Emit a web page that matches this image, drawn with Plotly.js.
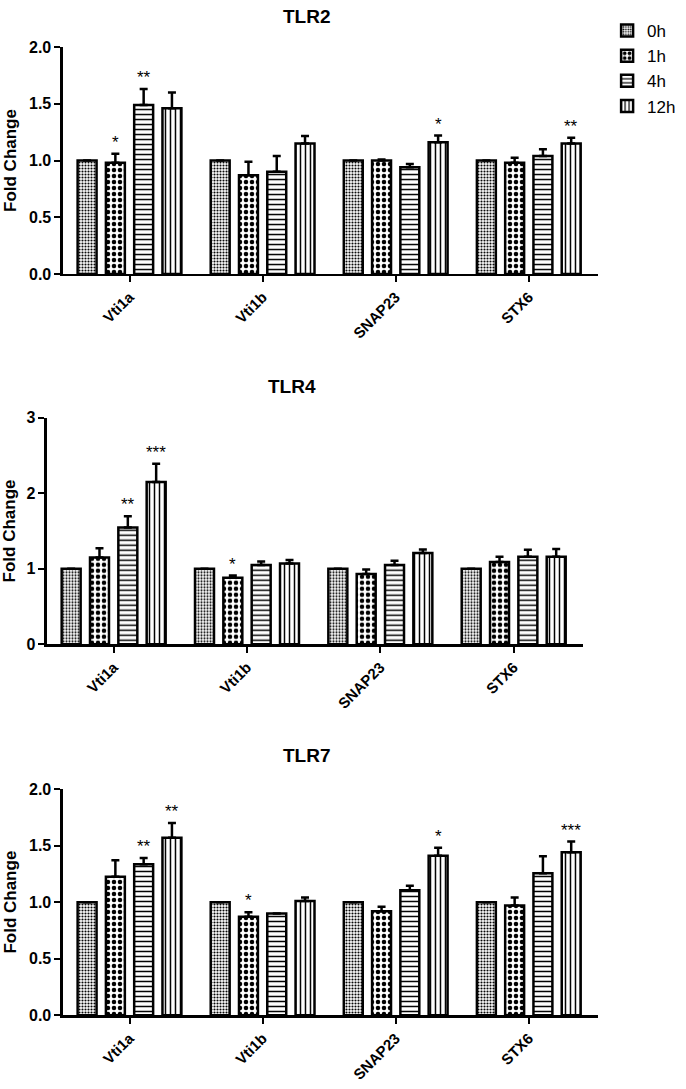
<!DOCTYPE html>
<html>
<head>
<meta charset="utf-8">
<script src="https://cdn.plot.ly/plotly-3.0.1.min.js"></script>
<style>
  html, body { margin: 0; padding: 0; background: #fff; }
  #chart { width: 686px; height: 1089px; }
</style>
</head>
<body>
<div id="chart"></div>
<script>
// genes on the x axis, time points as series
const categories = ['Vti1a', 'Vti1b', 'SNAP23', 'STX6'];
const timepoints = ['0h', '1h', '4h', '12h'];

// TLR2
const tlr2Mean0h  = [1.00, 1.00, 1.00, 1.00];
const tlr2Mean1h  = [0.98, 0.87, 1.00, 0.98];
const tlr2Mean4h  = [1.49, 0.90, 0.94, 1.04];
const tlr2Mean12h = [1.46, 1.15, 1.16, 1.15];
const tlr2Sem0h   = [0, 0, 0, 0];
const tlr2Sem1h   = [0.08, 0.12, 0.01, 0.045];
const tlr2Sem4h   = [0.14, 0.14, 0.03, 0.06];
const tlr2Sem12h  = [0.14, 0.065, 0.06, 0.05];
const tlr2Stars1h  = ['*', '', '', ''];
const tlr2Stars4h  = ['**', '', '', ''];
const tlr2Stars12h = ['', '', '*', '**'];

// TLR4
const tlr4Mean0h  = [1.00, 1.00, 1.00, 1.00];
const tlr4Mean1h  = [1.15, 0.88, 0.93, 1.09];
const tlr4Mean4h  = [1.545, 1.05, 1.05, 1.16];
const tlr4Mean12h = [2.15, 1.07, 1.21, 1.16];
const tlr4Sem0h   = [0, 0, 0, 0];
const tlr4Sem1h   = [0.12, 0.03, 0.06, 0.07];
const tlr4Sem4h   = [0.15, 0.045, 0.055, 0.09];
const tlr4Sem12h  = [0.24, 0.045, 0.045, 0.10];
const tlr4Stars1h  = ['', '*', '', ''];
const tlr4Stars4h  = ['**', '', '', ''];
const tlr4Stars12h = ['***', '', '', ''];

// TLR7
const tlr7Mean0h  = [1.00, 1.00, 1.00, 1.00];
const tlr7Mean1h  = [1.225, 0.87, 0.92, 0.97];
const tlr7Mean4h  = [1.335, 0.90, 1.105, 1.255];
const tlr7Mean12h = [1.57, 1.01, 1.41, 1.44];
const tlr7Sem0h   = [0, 0, 0, 0];
const tlr7Sem1h   = [0.145, 0.04, 0.04, 0.07];
const tlr7Sem4h   = [0.055, 0, 0.04, 0.15];
const tlr7Sem12h  = [0.13, 0.03, 0.07, 0.095];
const tlr7Stars1h  = ['', '*', '', ''];
const tlr7Stars4h  = ['**', '', '', ''];
const tlr7Stars12h = ['**', '', '*', '***'];

const noStars = ['', '', '', ''];

const panels = [
  { title: 'TLR2', means: [tlr2Mean0h, tlr2Mean1h, tlr2Mean4h, tlr2Mean12h],
    sems: [tlr2Sem0h, tlr2Sem1h, tlr2Sem4h, tlr2Sem12h],
    stars: [noStars, tlr2Stars1h, tlr2Stars4h, tlr2Stars12h] },
  { title: 'TLR4', means: [tlr4Mean0h, tlr4Mean1h, tlr4Mean4h, tlr4Mean12h],
    sems: [tlr4Sem0h, tlr4Sem1h, tlr4Sem4h, tlr4Sem12h],
    stars: [noStars, tlr4Stars1h, tlr4Stars4h, tlr4Stars12h] },
  { title: 'TLR7', means: [tlr7Mean0h, tlr7Mean1h, tlr7Mean4h, tlr7Mean12h],
    sems: [tlr7Sem0h, tlr7Sem1h, tlr7Sem4h, tlr7Sem12h],
    stars: [noStars, tlr7Stars1h, tlr7Stars4h, tlr7Stars12h] }
];

const patterns = [
  { shape: '.', size: 3, solidity: 0.4 },
  { shape: '.', size: 6, solidity: 0.45 },
  { shape: '-', size: 5, solidity: 0.3 },
  { shape: '|', size: 5, solidity: 0.3 }
];

const font = '"Liberation Sans", Arial, sans-serif';
const bargap = 0.15;
const slot = (1 - bargap) / timepoints.length;

let data = [];
let annotations = [];

panels.forEach((p, k) => {
  const ax = k === 0 ? '' : String(k + 1);
  timepoints.forEach((t, i) => {
    data.push({
      type: 'bar',
      x: categories,
      y: p.means[i],
      name: t,
      xaxis: 'x' + ax,
      yaxis: 'y' + ax,
      showlegend: k === 0,
      legendgroup: t,
      marker: {
        color: '#fff',
        line: { color: '#000', width: 2.5 },
        pattern: Object.assign({ fgcolor: '#000', bgcolor: '#fff', fillmode: 'replace' }, patterns[i])
      },
      error_y: {
        type: 'data',
        symmetric: false,
        array: p.sems[i],
        arrayminus: p.sems[i].map(() => 0),
        visible: true,
        color: '#000',
        thickness: 2.5,
        width: 4
      },
      hoverinfo: 'skip'
    });
    // significance stars above the error bars
    p.stars[i].forEach((s, c) => {
      if (!s) return;
      annotations.push({
        xref: 'x' + ax, yref: 'y' + ax,
        x: c - (1 - bargap) / 2 + (i + 0.5) * slot,
        y: p.means[i][c] + p.sems[i][c],
        text: s, showarrow: false,
        yanchor: 'bottom', yshift: 0,
        font: { family: font, size: 17, color: '#000' }
      });
    });
  });
});

const titlePos = [[0.4475, 0.9844], [0.425, 0.6455], [0.447, 0.306]];
panels.forEach((p, k) => {
  annotations.push({
    xref: 'paper', yref: 'paper', x: titlePos[k][0], y: titlePos[k][1],
    text: '<b>' + p.title + '</b>', showarrow: false,
    xanchor: 'center', yanchor: 'middle',
    font: { family: font, size: 19, color: '#000' }
  });
});

function xAxis(domain, anchor) {
  return {
    domain: domain, anchor: anchor, type: 'category', range: [-0.5, 3.52],
    showline: true, linecolor: '#000', linewidth: 2.5,
    ticks: 'outside', ticklen: 6, tickwidth: 2, tickcolor: '#000',
    tickangle: -45, showgrid: false, zeroline: false,
    tickfont: { family: font, size: 15, color: '#000', weight: 'bold' }
  };
}
function yAxis(domain, anchor, range, dtick, fmt) {
  return {
    domain: domain, anchor: anchor, range: range, dtick: dtick, tickformat: fmt,
    showline: true, linecolor: '#000', linewidth: 2.5,
    ticks: 'outside', ticklen: 6, tickwidth: 2, tickcolor: '#000',
    showgrid: false, zeroline: false,
    tickfont: { family: font, size: 16, color: '#000', weight: 'bold' },
    title: { text: '<b>Fold Change</b>', standoff: 8,
      font: { family: font, size: 17, color: '#000' } }
  };
}

const layout = {
  width: 686, height: 1089,
  margin: { l: 0, r: 0, t: 0, b: 0 },
  paper_bgcolor: '#fff', plot_bgcolor: '#fff',
  barmode: 'group', bargap: bargap, bargroupgap: 0.33,
  showlegend: true,
  legend: {
    x: 0.885, y: 0.988, xanchor: 'left', yanchor: 'top',
    font: { family: font, size: 17, color: '#000' },
    tracegroupgap: 0, itemwidth: 30
  },
  xaxis:  xAxis([0.0918, 0.8717], 'y'),
  yaxis:  yAxis([0.7484, 0.9568], 'x', [0, 2], 0.5, '.1f'),
  xaxis2: xAxis([0.0685, 0.8499], 'y2'),
  yaxis2: yAxis([0.4084, 0.6164], 'x2', [0, 3], 1, 'd'),
  xaxis3: xAxis([0.0918, 0.8717], 'y3'),
  yaxis3: yAxis([0.0677, 0.2755], 'x3', [0, 2], 0.5, '.1f'),
  annotations: annotations
};

Plotly.newPlot('chart', data, layout, { staticPlot: true });
</script>
</body>
</html>
